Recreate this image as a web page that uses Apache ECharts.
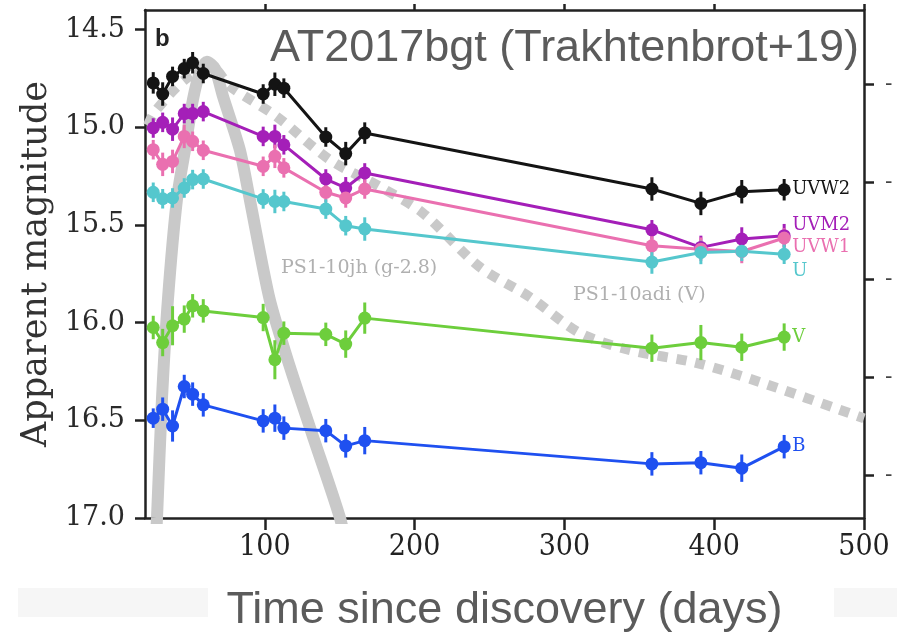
<!DOCTYPE html>
<html>
<head>
<meta charset="utf-8">
<script src="https://cdn.jsdelivr.net/npm/echarts@6/dist/echarts.min.js"></script>
<style>html,body{margin:0;padding:0;background:#fff;}#c{width:897px;height:638px;}</style>
</head>
<body>
<div id="c"></div>
<script>
// ---- data ----
const days = [25.5, 31.8, 38.4, 46.2, 51.8, 58.9, 98.9, 106.7, 112.7, 140.7, 154, 166.7, 358.4, 391.1, 418.4, 446.7];
const uvw2 = [14.773, 14.83, 14.74, 14.70, 14.67, 14.725, 14.83, 14.78, 14.80, 15.05, 15.135, 15.03, 15.316, 15.39, 15.33, 15.32];
const uvw2Err = [0.055, 0.06, 0.05, 0.05, 0.055, 0.05, 0.05, 0.06, 0.05, 0.05, 0.06, 0.055, 0.06, 0.06, 0.06, 0.055];
const uvm2 = [15.004, 14.975, 15.01, 14.93, 14.93, 14.92, 15.047, 15.047, 15.09, 15.265, 15.31, 15.234, 15.525, 15.615, 15.572, 15.555];
const uvm2Err = [0.05, 0.05, 0.06, 0.05, 0.05, 0.05, 0.05, 0.06, 0.05, 0.05, 0.055, 0.05, 0.05, 0.06, 0.06, 0.06];
const uvw1 = [15.115, 15.19, 15.175, 15.047, 15.072, 15.118, 15.2, 15.149, 15.208, 15.333, 15.362, 15.316, 15.607, 15.624, 15.636, 15.567];
const uvw1Err = [0.05, 0.06, 0.06, 0.06, 0.05, 0.05, 0.05, 0.06, 0.05, 0.05, 0.05, 0.05, 0.06, 0.06, 0.06, 0.05];
const uBand = [15.333, 15.366, 15.362, 15.311, 15.268, 15.265, 15.367, 15.38, 15.38, 15.419, 15.504, 15.521, 15.69, 15.641, 15.635, 15.65];
const uErr = [0.05, 0.05, 0.05, 0.05, 0.05, 0.05, 0.05, 0.06, 0.05, 0.05, 0.05, 0.06, 0.06, 0.06, 0.05, 0.05];
const vBand = [16.025, 16.102, 16.016, 15.982, 15.914, 15.94, 15.974, 16.19, 16.054, 16.06, 16.11, 15.977, 16.131, 16.102, 16.126, 16.074];
const vErr = [0.06, 0.07, 0.1, 0.07, 0.06, 0.06, 0.07, 0.1, 0.06, 0.06, 0.07, 0.08, 0.07, 0.09, 0.07, 0.07];
const bBand = [16.489, 16.443, 16.529, 16.327, 16.366, 16.421, 16.503, 16.489, 16.54, 16.553, 16.631, 16.604, 16.723, 16.717, 16.745, 16.635];
const bErr = [0.05, 0.06, 0.08, 0.06, 0.06, 0.06, 0.06, 0.07, 0.06, 0.06, 0.06, 0.07, 0.06, 0.06, 0.07, 0.06];

// comparison curves
const jhDays = [26.7, 28, 31.3, 35.3, 41.3, 46.7, 52, 56.7, 61.3, 66.7, 72, 83.3, 90, 103.3, 116.7, 131.3, 150, 156.7];
const jhMag  = [17.22, 17.0, 16.395, 15.883, 15.371, 15.115, 14.859, 14.72, 14.665, 14.70, 14.84, 15.115, 15.371, 15.883, 16.226, 16.564, 16.995, 17.22];
const adiDays = [22, 26.7, 46.7, 64.7, 76.7, 108, 143.3, 176.7, 205.3, 243.3, 276.7, 310, 343.3, 388, 432, 500];
const adiMag  = [14.99, 14.92, 14.756, 14.695, 14.79, 14.946, 15.166, 15.304, 15.438, 15.714, 15.868, 16.052, 16.14, 16.206, 16.308, 16.49];

const xTicks = [100, 200, 300, 400, 500];
const yTicks = [14.5, 15.0, 15.5, 16.0, 16.5, 17.0];
const rightTicks = [14.78, 15.28, 15.78, 16.28, 16.78];

const bands = [
  {name: 'UVW2', mags: uvw2, errs: uvw2Err, color: '#141414', off: [5, 0]},
  {name: 'UVM2', mags: uvm2, errs: uvm2Err, color: '#a41fb8', off: [5, -10]},
  {name: 'UVW1', mags: uvw1, errs: uvw1Err, color: '#ea70b0', off: [5, 9]},
  {name: 'U', mags: uBand, errs: uErr, color: '#55c7cd', off: [5, 17]},
  {name: 'V', mags: vBand, errs: vErr, color: '#6dce3c', off: [5, 0]},
  {name: 'B', mags: bBand, errs: bErr, color: '#1f50f0', off: [5, 0]}
];

const serif = '"DejaVu Serif", serif';
const sans = '"Liberation Sans", Arial, sans-serif';
const axisColor = '#222';

const series = [
  {
    type: 'line', name: 'PS1-10jh (g-2.8)', xAxisIndex: 0, yAxisIndex: 0,
    data: jhDays.map((d, i) => [d, jhMag[i]]), smooth: 0.25, showSymbol: false, symbol: 'none',
    lineStyle: {color: '#c9c9c9', width: 12}, z: 1, silent: true
  },
  {
    type: 'line', name: 'PS1-10adi (V)', xAxisIndex: 0, yAxisIndex: 0,
    data: adiDays.map((d, i) => [d, adiMag[i]]), smooth: 0.3, showSymbol: false, symbol: 'none',
    lineStyle: {color: '#c9c9c9', width: 10, type: [10, 9], cap: 'butt'}, z: 1, silent: true
  }
];

bands.forEach(b => {
  const pts = days.map((d, i) => [d, b.mags[i], b.errs[i]]);
  series.push({
    type: 'custom', name: b.name + ' err', xAxisIndex: 0, yAxisIndex: 0, z: 3,
    data: pts,
    renderItem: function (params, api) {
      const x = api.value(0), y = api.value(1), e = api.value(2);
      const p1 = api.coord([x, y - e]);
      const p2 = api.coord([x, y + e]);
      return {type: 'line', shape: {x1: p1[0], y1: p1[1], x2: p2[0], y2: p2[1]},
              style: {stroke: b.color, lineWidth: 3}};
    }
  });
  series.push({
    type: 'line', name: b.name, xAxisIndex: 0, yAxisIndex: 0, z: 4,
    data: pts.map(p => [p[0], p[1]]),
    symbol: 'circle', symbolSize: 13, showAllSymbol: true,
    itemStyle: {color: b.color},
    lineStyle: {color: b.color, width: 3},
    endLabel: {show: true, formatter: b.name, color: b.color, fontFamily: serif,
               fontSize: 18, distance: 3, offset: b.off}
  });
});

const chart = echarts.init(document.getElementById('c'));
chart.setOption({
  animation: false,
  backgroundColor: '#fff',
  grid: {left: 145, right: 33, top: 10, bottom: 120},
  xAxis: [
    {
      type: 'value', position: 'bottom', min: 20, max: 500,
      axisLine: {show: true, onZero: false, lineStyle: {color: axisColor, width: 2.5}},
      axisTick: {show: true, inside: false, length: 12, lineStyle: {color: axisColor, width: 2.5}, customValues: xTicks},
      axisLabel: {show: true, customValues: xTicks, margin: 14, fontFamily: '"DejaVu Serif Condensed", "DejaVu Serif", serif',
                  fontSize: 30, color: '#222'},
      splitLine: {show: false},
      name: 'Time since discovery (days)', nameLocation: 'middle', nameGap: 70,
      nameTextStyle: {fontFamily: sans, fontSize: 45, color: '#5b5b5b'}
    },
    {
      type: 'value', position: 'top', min: 20, max: 500,
      axisLine: {show: true, onZero: false, lineStyle: {color: axisColor, width: 2.5}},
      axisTick: {show: true, inside: false, length: 6, lineStyle: {color: axisColor, width: 2.5}, customValues: xTicks},
      axisLabel: {show: false},
      splitLine: {show: false}
    }
  ],
  yAxis: [
    {
      type: 'value', position: 'left', inverse: true, min: 14.4, max: 17.0,
      axisLine: {show: true, onZero: false, lineStyle: {color: axisColor, width: 2.5}},
      axisTick: {show: true, inside: false, length: 10, lineStyle: {color: axisColor, width: 2.5}, customValues: yTicks},
      axisLabel: {show: true, customValues: yTicks, margin: 20, fontFamily: serif, fontSize: 27, color: '#2a2a2a',
                  formatter: v => v.toFixed(1)},
      splitLine: {show: false},
      name: 'Apparent magnitude', nameLocation: 'middle', nameGap: 87,
      nameTextStyle: {fontFamily: serif, fontSize: 35, color: '#333'}
    },
    {
      type: 'value', position: 'right', inverse: true, min: 14.4, max: 17.0,
      axisLine: {show: true, onZero: false, lineStyle: {color: axisColor, width: 2.5}},
      axisTick: {show: true, inside: false, length: 10, lineStyle: {color: axisColor, width: 2.5}, customValues: rightTicks},
      axisLabel: {show: true, customValues: rightTicks, margin: 21, fontFamily: serif, fontSize: 22, color: '#444',
                  formatter: () => '-'},
      splitLine: {show: false}
    }
  ],
  graphic: [
    {type: 'rect', left: 18, top: 588, shape: {width: 190, height: 29}, style: {fill: '#f6f6f6'}, z: -1},
    {type: 'rect', left: 834, top: 588, shape: {width: 63, height: 29}, style: {fill: '#f6f6f6'}, z: -1},
    {type: 'text', left: 155, top: 27, style: {text: 'b', font: 'bold 24px ' + sans, fill: '#222'}},
    {type: 'text', left: 270, top: 26, style: {text: 'AT2017bgt (Trakhtenbrot+19)', font: '45px ' + sans, fill: '#5b5b5b'}},
    {type: 'text', left: 281, top: 259, style: {text: 'PS1-10jh (g-2.8)', font: '19px ' + serif, fill: '#b0b0b0'}},
    {type: 'text', left: 573, top: 286, style: {text: 'PS1-10adi (V)', font: '19px ' + serif, fill: '#b0b0b0'}}
  ],
  series: series
});
</script>
</body>
</html>
